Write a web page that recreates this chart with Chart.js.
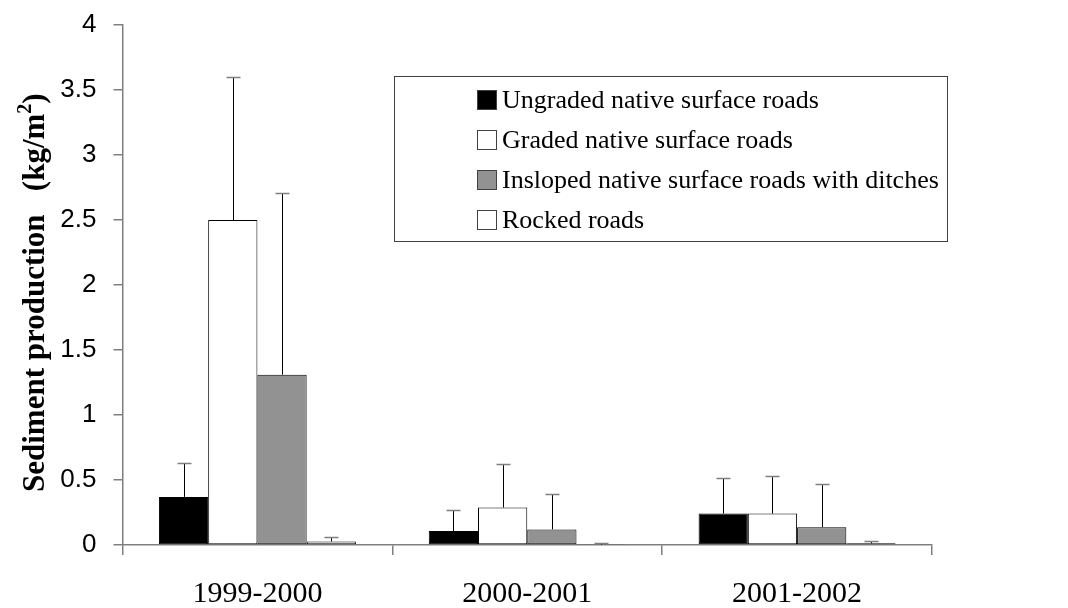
<!DOCTYPE html>
<html>
<head>
<meta charset="utf-8">
<script src="https://cdn.jsdelivr.net/npm/chart.js@4"></script>
<style>
  html, body { margin: 0; padding: 0; background: #fff; }
  #wrap { width: 1068px; height: 608px; position: relative; }
</style>
</head>
<body>
<div id="wrap"><canvas id="chartCanvas"></canvas></div>
<script>
const categories = ["1999-2000", "2000-2001", "2001-2002"];
const seriesNames = [
  "Ungraded native surface roads",
  "Graded native surface roads",
  "Insloped native surface roads with ditches",
  "Rocked roads",
];
// mean sediment production (kg/m2)
const ungraded = [0.37, 0.107, 0.242];
const graded = [2.5, 0.288, 0.242];
const insloped = [1.31, 0.12, 0.137];
const rocked = [0.027, 0.003, 0.013];
// upper error bar lengths
const ungradedErr = [0.257, 0.165, 0.272];
const gradedErr = [1.1, 0.333, 0.287];
const inslopedErr = [1.4, 0.272, 0.331];
const rockedErr = [0.033, 0.01, 0.015];
const yTicks = [0, 0.5, 1, 1.5, 2, 2.5, 3, 3.5, 4];

const AXIS_GREY = "#7f7f7f";
const SERIF = "'Liberation Serif', 'Times New Roman', serif";
const SANS = "'Liberation Sans', Arial, sans-serif";

function makeSet(label, data, errors, fill) {
  return {
    label: label,
    data: data,
    errors: errors,
    backgroundColor: fill,
    borderColor: "#000000",
    borderWidth: 1,
    borderSkipped: false,
    categoryPercentage: 0.73,
    barPercentage: 1.0,
  };
}

// draws the upper error bars from each bar's top
const errorBars = {
  id: "errorBars",
  afterDatasetsDraw(chart) {
    const ctx = chart.ctx;
    const y = chart.scales.y;
    chart.data.datasets.forEach((ds, i) => {
      const meta = chart.getDatasetMeta(i);
      meta.data.forEach((bar, j) => {
        const top = y.getPixelForValue(ds.data[j]);
        const end = Math.round(y.getPixelForValue(ds.data[j] + ds.errors[j])) + 0.5;
        const x = Math.round(bar.x) + 0.5;
        ctx.save();
        ctx.lineWidth = 1;
        ctx.strokeStyle = "#000000";
        ctx.beginPath();
        ctx.moveTo(x, top);
        ctx.lineTo(x, end);
        ctx.stroke();
        ctx.strokeStyle = AXIS_GREY;
        ctx.lineWidth = 1.5;
        ctx.beginPath();
        ctx.moveTo(x - 7, end);
        ctx.lineTo(x + 7, end);
        ctx.stroke();
        ctx.restore();
      });
    });
  },
};

// boxed legend inside the plot, plus the y title with a superscript
const boxLegend = {
  id: "boxLegend",
  afterDraw(chart) {
    const ctx = chart.ctx;
    ctx.save();
    ctx.strokeStyle = "#404040";
    ctx.lineWidth = 1;
    ctx.fillStyle = "#ffffff";
    ctx.fillRect(394.5, 76.5, 553, 165);
    ctx.strokeRect(394.5, 76.5, 553, 165);
    const rows = [100, 140, 180, 220];
    ctx.font = "26px " + SERIF;
    ctx.textBaseline = "middle";
    chart.data.datasets.forEach((ds, i) => {
      ctx.fillStyle = ds.backgroundColor;
      ctx.fillRect(477.5, rows[i] - 9.5, 19, 19);
      ctx.strokeStyle = "#404040";
      ctx.strokeRect(477.5, rows[i] - 9.5, 19, 19);
      ctx.fillStyle = "#000000";
      ctx.fillText(ds.label, 502, rows[i] + 1);
    });

    // y title, read bottom to top, starting near y = 492
    ctx.translate(36, 0);
    ctx.rotate(-Math.PI / 2);
    ctx.fillStyle = "#000000";
    ctx.textBaseline = "middle";
    ctx.textAlign = "left";
    const main = "Sediment production   (kg/m";
    const bold = "bold 31px " + SERIF;
    const small = "bold 20px " + SERIF;
    let x = -492;
    ctx.font = bold;
    ctx.fillText(main, x, 0);
    x += ctx.measureText(main).width;
    ctx.font = small;
    ctx.fillText("2", x, -10);
    x += ctx.measureText("2").width;
    ctx.font = bold;
    ctx.fillText(")", x, 0);
    ctx.restore();
  },
};

const chartContext = document.getElementById("chartCanvas");
let chart = new Chart(chartContext, {
  type: "bar",
  data: {
    labels: categories,
    datasets: [
      makeSet(seriesNames[0], ungraded, ungradedErr, "#000000"),
      makeSet(seriesNames[1], graded, gradedErr, "#ffffff"),
      makeSet(seriesNames[2], insloped, inslopedErr, "#929292"),
      makeSet(seriesNames[3], rocked, rockedErr, "#ffffff"),
    ],
  },
  options: {
    responsive: true,
    maintainAspectRatio: false,
    animation: false,
    layout: { padding: { top: 25, right: 136, bottom: 0, left: 0 } },
    plugins: {
      legend: { display: false },
      tooltip: { enabled: false },
    },
    scales: {
      x: {
        offset: true,
        afterFit: (scale) => { scale.height = 63; },
        grid: {
          offset: true,
          drawOnChartArea: false,
          drawTicks: true,
          tickLength: 10,
          color: AXIS_GREY,
          lineWidth: 1.5,
        },
        border: { display: true, color: AXIS_GREY, width: 1.5 },
        ticks: {
          color: "#000000",
          padding: 21,
          font: { family: SERIF, size: 30 },
        },
      },
      y: {
        min: 0,
        max: 4,
        afterFit: (scale) => {
          scale.width = 122.5;
          scale.paddingTop = 0;
          scale.paddingBottom = 0;
        },
        afterBuildTicks: (scale) => {
          scale.ticks = yTicks.map((v) => ({ value: v }));
        },
        grid: {
          drawOnChartArea: false,
          drawTicks: true,
          tickLength: 9,
          color: AXIS_GREY,
          lineWidth: 1.5,
        },
        border: { display: true, color: AXIS_GREY, width: 1.5 },
        ticks: {
          color: "#000000",
          padding: 17,
          font: { family: SANS, size: 26 },
          callback: (v) => String(v),
        },
      },
    },
  },
  plugins: [errorBars, boxLegend],
});
</script>
</body>
</html>
